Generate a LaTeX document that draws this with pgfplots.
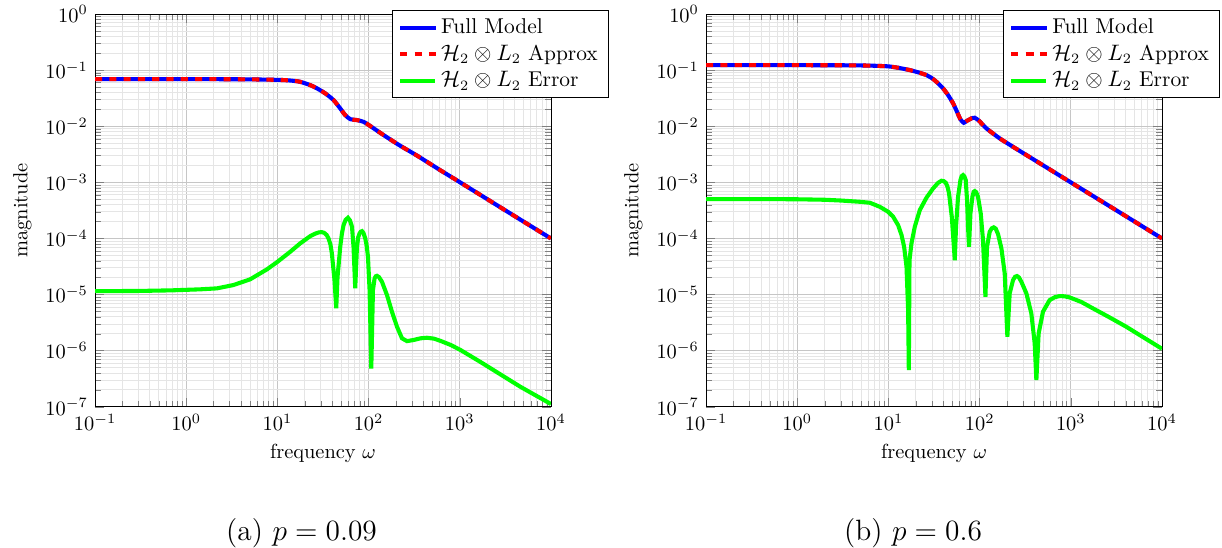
\documentclass[border=0pt]{standalone}
\usepackage{pgfplots}
\pgfplotsset{compat=1.18}
\pgfplotstableread{
w m
0.1 0.0694
0.5 0.0693
1 0.0692
3 0.0690
5.03 0.0686
8 0.0678
11.7 0.0667
14.5 0.0650
17.8 0.0621
22.9 0.0542
27.2 0.0474
33.5 0.0386
41.3 0.0293
48.9 0.0208
55.5 0.0158
63.0 0.0134
74.6 0.0129
88.2 0.0120
104.4 0.0101
146 0.00697
220 0.00455
340 0.00300
600 0.00168
1000 0.00101
3000 0.000334
10000 0.0001
}\fullA
\pgfplotstableread{
w m
0.1 1.15e-5
0.3 1.16e-5
0.7 1.19e-5
1.42 1.24e-5
2.17 1.29e-5
3.30 1.48e-5
5.03 1.87e-5
7.67 2.81e-5
10.03 3.84e-5
13.82 5.79e-5
17.8 8.18e-5
22.9 1.10e-4
26 1.22e-4
28.3 1.28e-4
30.5 1.30e-4
32.6 1.26e-4
34.6 1.16e-4
36.4 1.0e-4
38.2 7.8e-5
39.6 5.4e-5
42.3 1.81e-5
44.2 5.7e-6
45.7 2.08e-5
48.9 7.1e-5
51 1.22e-4
53.2 1.73e-4
56 2.15e-4
59.4 2.34e-4
62.5 2.1e-4
65.8 1.62e-4
68.4 7.1e-5
71.4 1.29e-5
74.6 7.1e-5
77 1.05e-4
79.6 1.23e-4
82 1.32e-4
84.7 1.35e-4
88 1.25e-4
92.0 1.0e-4
95.5 7.3e-5
98.5 4.7e-5
102.6 1.2e-5
107.1 4.8e-7
111.7 1.2e-5
116.4 1.94e-5
120 2.12e-5
123.6 2.16e-5
130 2.05e-5
140.3 1.69e-5
159.2 9.8e-6
180.6 4.93e-6
205 2.67e-6
232.6 1.66e-6
263.8 1.48e-6
311.7 1.55e-6
370 1.66e-6
437.6 1.70e-6
520 1.64e-6
612 1.50e-6
800 1.26e-6
1016 1.03e-6
1683 6.3e-7
2791 3.78e-7
4626 2.27e-7
10000 1.12e-7
}\errA
\pgfplotstableread{
w m
0.1 0.1230
0.5 0.1230
1 0.1228
3 0.1224
5 0.1215
7 0.1200
10 0.1170
13 0.1100
17.1 0.1005
21 0.0920
26.1 0.0818
30 0.0720
33.6 0.0621
39.7 0.0474
45.1 0.0360
51.2 0.0256
56.5 0.0181
61.6 0.0133
66.9 0.01154
72.8 0.01253
81.3 0.01383
88.4 0.0142
98.4 0.01253
118.6 0.00918
166 0.00608
250 0.00400
400 0.00250
1000 0.00100
3000 0.000334
10000 0.0001
}\fullB
\pgfplotstableread{
w m
0.1 5.04e-4
0.5 5.03e-4
1 5.0e-4
2 4.9e-4
3 4.75e-4
4.86 4.51e-4
6.26 4.33e-4
8.05 3.67e-4
9.93 2.99e-4
11.26 2.44e-4
12.77 1.73e-4
13.92 1.15e-4
14.86 7.1e-5
15.78 3.13e-5
16.44 5.3e-6
16.73 4.5e-7
17.02 4.1e-5
17.9 8.2e-5
19.46 1.62e-4
22.08 3.21e-4
26.1 5.32e-4
30.9 7.82e-4
35 9.8e-4
38.2 1.07e-3
40.5 1.05e-3
42.6 9.84e-4
44.5 8.3e-4
46.2 6.37e-4
49.5 2.44e-4
51.6 9.36e-5
53.4 4.1e-5
55.1 1.62e-4
58.0 5.54e-4
61.6 1.10e-3
63.5 1.29e-3
65.8 1.35e-3
68 1.28e-3
70.4 1.10e-3
72.8 4.83e-4
74.6 1.62e-4
76.5 7.1e-5
79.3 2.80e-4
83.4 5.54e-4
86 6.8e-4
88.4 7.0e-4
91.5 6.7e-4
96.0 5.54e-4
102.8 2.80e-4
108.9 9.36e-5
115.8 9.1e-6
120.5 7.1e-5
129.0 1.32e-4
136 1.52e-4
142.7 1.58e-4
150 1.50e-4
159.1 1.20e-4
173.3 6.67e-5
188.4 2.39e-5
201.5 1.77e-6
213.6 1.05e-5
232.3 1.81e-5
245 2.08e-5
256.9 2.14e-5
270 2.02e-5
287 1.69e-5
325.7 1.05e-5
369 4.62e-6
401.6 1.35e-6
419 2.99e-7
443.7 2.03e-6
494.8 4.93e-6
586 7.98e-6
670 9.0e-6
754 9.4e-6
860 9.3e-6
970 8.9e-6
1300 7.4e-6
1746 5.68e-6
2600 4.0e-6
4055 2.67e-6
6000 1.8e-6
10000 1.08e-6
}\errB
\pgfplotsset{
  every axis/.append style={
    scale only axis,
    width=223.4pt, height=192.4pt,
    xmin=0.1, xmax=1e4, ymin=1e-7, ymax=1,
    xtick={0.1,1,10,100,1000,10000},
    ytick={1e-7,1e-6,1e-5,1e-4,1e-3,1e-2,1e-1,1},
    grid=both,
    major grid style={gray!45},
    minor grid style={gray!20},
    xlabel={frequency $\omega$},
    ylabel={magnitude},
    legend cell align=left,
    legend style={at={(1.126,1.01)}, anchor=north east, draw=black,
      font=\fontsize{10.5}{12.6}\selectfont},
  }
}
\begin{document}
\begin{tikzpicture}
\path[use as bounding box] (-46.55pt,-69.2pt) rectangle (552.2pt,199.3pt);
\begin{loglogaxis}[at={(0pt,0pt)}, anchor=south west]
\addplot[blue, line width=2pt, smooth, tension=0.4] table[x=w,y=m] {\fullA};
\addlegendentry{Full Model}
\addplot[red, line width=2pt, dash pattern=on 3.5pt off 3.5pt, smooth, tension=0.4] table[x=w,y=m] {\fullA};
\addlegendentry{$\mathcal{H}_2\otimes L_2$ Approx}
\addplot[green, line width=2pt] table[x=w,y=m] {\errA};
\addlegendentry{$\mathcal{H}_2\otimes L_2$ Error}
\end{loglogaxis}
\begin{loglogaxis}[at={(299.4pt,0pt)}, anchor=south west]
\addplot[blue, line width=2pt, smooth, tension=0.3] table[x=w,y=m] {\fullB};
\addlegendentry{Full Model}
\addplot[red, line width=2pt, dash pattern=on 3.5pt off 3.5pt, smooth, tension=0.3] table[x=w,y=m] {\fullB};
\addlegendentry{$\mathcal{H}_2\otimes L_2$ Approx}
\addplot[green, line width=2pt] table[x=w,y=m] {\errB};
\addlegendentry{$\mathcal{H}_2\otimes L_2$ Error}
\end{loglogaxis}
\node[anchor=base, font=\Large] at (101.2pt,-65.3pt) {(a) $p = 0.09$};
\node[anchor=base, font=\Large] at (400.8pt,-65.3pt) {(b) $p = 0.6$};
\end{tikzpicture}
\end{document}
